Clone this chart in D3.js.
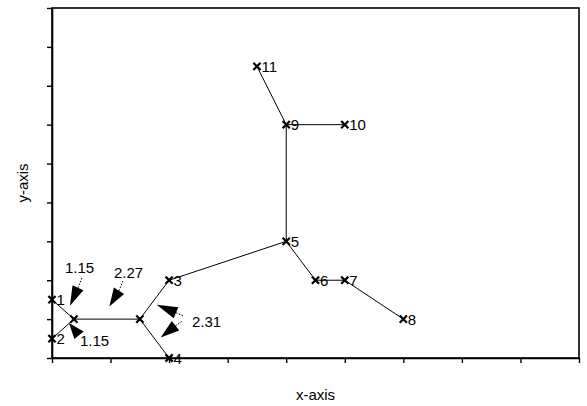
<!DOCTYPE html>
<html><head><meta charset="utf-8">
<script src="https://cdn.jsdelivr.net/npm/d3@7"></script>
<style>body{margin:0;background:#fff}svg{display:block}text{font-family:"Liberation Sans",Arial,sans-serif;fill:#000}</style>
</head><body><svg id="c" width="587" height="406"></svg>
<script>
// nodes
const nodeLabels = ["1","2","","","3","4","5","6","7","8","9","10","11"];
const nodeX = [0, 0, 0.375, 1.5, 2, 2, 4, 4.5, 5, 6, 4, 5, 3.5];
const nodeY = [1.5, 0.5, 1, 1, 2, 0, 3, 2, 2, 1, 6, 6, 7.5];
// edges (node index pairs)
const edgeFrom = [0, 1, 2, 3, 3, 4, 6, 6, 7, 8, 10, 10];
const edgeTo   = [2, 2, 3, 4, 5, 6, 10, 7, 8, 9, 11, 12];
// annotation labels
const annLabels = ["1.15", "2.27", "2.31", "1.15"];
const annX = [0.222, 1.059, 2.391, 0.478];
const annY = [2.19, 2.063, 0.804, 0.303];
// arrows: tip, base centre, leader end (data units)
const arrowTipX  = [0.307, 0.979, 1.788, 1.856, 0.290];
const arrowTipY  = [1.344, 1.326, 1.369, 0.529, 0.899];
const arrowBaseX = [0.444, 1.144, 2.118, 2.109, 0.461];
const arrowBaseY = [1.806, 1.729, 1.164, 0.830, 0.586];
const leadX = [0.521, 1.213, 2.237, 2.237, null];
const leadY = [2.089, 1.986, 1.087, 0.958, null];
// axes
const xTicks = [0,1,2,3,4,5,6,7,8,9];
const yTicks = [0,1,2,3,4,5,6,7,8,9];

const svg = d3.select("#c");
const x = d3.scaleLinear().domain([0,9]).range([52,579]);
const y = d3.scaleLinear().domain([0,9]).range([358,8]);

// frame
svg.append("rect").attr("x",52).attr("y",8).attr("width",527).attr("height",350)
  .attr("fill","none").attr("stroke","#000").attr("stroke-width",1.6);

svg.append("g").attr("transform","translate(0,358)")
  .call(d3.axisBottom(x).tickValues(xTicks).tickSize(5).tickSizeOuter(0).tickFormat(""))
  .call(g=>{g.select(".domain").attr("stroke-width",1.6);g.selectAll(".tick line").attr("stroke-width",1.4);});
svg.append("g").attr("transform","translate(52,0)")
  .call(d3.axisLeft(y).tickValues(yTicks).tickSize(5).tickSizeOuter(0).tickFormat(""))
  .call(g=>{g.select(".domain").attr("stroke-width",1.6);g.selectAll(".tick line").attr("stroke-width",1.4);});

// axis titles
svg.append("text").attr("x",315.5).attr("y",400).attr("text-anchor","middle")
  .style("font-size","15px").text("x-axis");
svg.append("text").attr("transform","translate(28,183) rotate(-90)").attr("text-anchor","middle")
  .style("font-size","15px").text("y-axis");

// edges
svg.append("g").selectAll("line").data(edgeFrom).join("line")
  .attr("x1",(d)=>x(nodeX[d])).attr("y1",(d)=>y(nodeY[d]))
  .attr("x2",(d,i)=>x(nodeX[edgeTo[i]])).attr("y2",(d,i)=>y(nodeY[edgeTo[i]]))
  .attr("stroke","#000").attr("stroke-width",1);

// markers
const m = 3.6;
svg.append("g").selectAll("path").data(nodeX).join("path")
  .attr("d",(d,i)=>{const cx=x(d), cy=y(nodeY[i]);
    return `M${cx-m},${cy-m}L${cx+m},${cy+m}M${cx-m},${cy+m}L${cx+m},${cy-m}`;})
  .attr("stroke","#000").attr("stroke-width",2.2).attr("fill","none");

// node labels
svg.append("g").selectAll("text").data(nodeLabels).join("text")
  .attr("x",(d,i)=>x(nodeX[i])+4.5).attr("y",(d,i)=>y(nodeY[i])+5.5)
  .style("font-size","15px").text(d=>d);

// leaders
svg.append("g").selectAll("line").data(leadX.filter(v=>v!==null)).join("line")
  .attr("x1",(d,i)=>x(arrowBaseX[i])).attr("y1",(d,i)=>y(arrowBaseY[i]))
  .attr("x2",d=>x(d)).attr("y2",(d,i)=>y(leadY[i]))
  .attr("stroke","#000").attr("stroke-width",1).attr("stroke-dasharray","1.5,1.5");

// arrow heads
const hw = 6;
svg.append("g").selectAll("path").data(arrowTipX).join("path")
  .attr("d",(d,i)=>{
    const tx=x(d), ty=y(arrowTipY[i]), bx=x(arrowBaseX[i]), by=y(arrowBaseY[i]);
    const dx=bx-tx, dy=by-ty, L=Math.hypot(dx,dy), nx=-dy/L*hw, ny=dx/L*hw;
    return `M${tx},${ty}L${bx+nx},${by+ny}L${bx-nx},${by-ny}Z`;})
  .attr("fill","#000");

// annotation labels
svg.append("g").selectAll("text").data(annLabels).join("text")
  .attr("x",(d,i)=>x(annX[i])).attr("y",(d,i)=>y(annY[i]))
  .style("font-size","15px").text(d=>d);
</script></body></html>
